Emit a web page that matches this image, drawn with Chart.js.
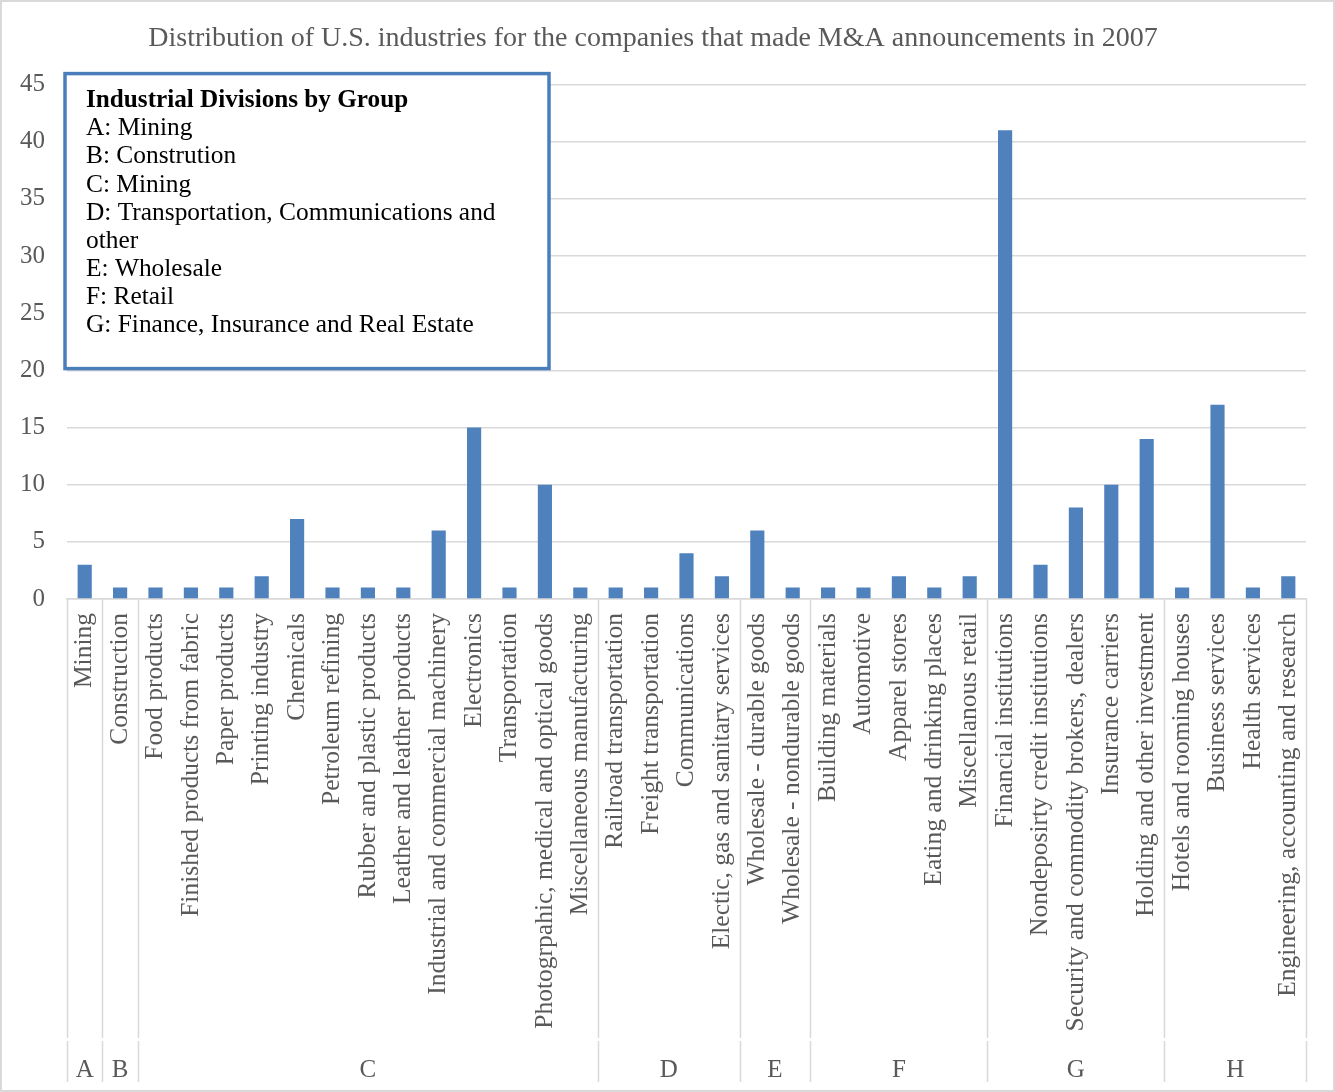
<!DOCTYPE html>
<html>
<head>
<meta charset="utf-8">
<script src="https://cdn.jsdelivr.net/npm/chart.js@4/dist/chart.umd.min.js"></script>
<style>
  body { margin: 0; background: #fff; }
  canvas { display: block; }
</style>
</head>
<body>
<canvas id="myChart" width="1335" height="1092"></canvas>
<script>
const ctx = document.getElementById("myChart");

// Industries (x axis), one bar each
const industries = [
  "Mining", "Construction",
  "Food products", "Finished products from fabric", "Paper products", "Printing industry",
  "Chemicals", "Petroleum refining", "Rubber and plastic products", "Leather and leather products",
  "Industrial and commercial machinery", "Electronics", "Transportation",
  "Photogrpahic, medical and optical goods", "Miscellaneous manufacturing",
  "Railroad transportation", "Freight transportation", "Communications", "Electic, gas and sanitary services",
  "Wholesale - durable goods", "Wholesale - nondurable goods",
  "Building materials", "Automotive", "Apparel stores", "Eating and drinking places", "Miscellanous retail",
  "Financial institutions", "Nondeposirty credit institutions", "Security and commodity brokers, dealers",
  "Insurance carriers", "Holding and other investment",
  "Hotels and rooming houses", "Business services", "Health services", "Engineering, accounting and research",
];
const counts = [
  3, 1,
  1, 1, 1, 2, 7, 1, 1, 1, 6, 15, 1, 10, 1,
  1, 1, 4, 2,
  6, 1,
  1, 1, 2, 1, 2,
  41, 3, 8, 10, 14,
  1, 17, 1, 2,
];

// second level of the category axis
const groupNames = ["A", "B", "C", "D", "E", "F", "G", "H"];
const groupSizes = [1, 1, 13, 4, 2, 5, 5, 4];

const yTicks = { min: 0, max: 45, step: 5 };

const noteTitle = "Industrial Divisions by Group";
const noteLines = [
  "A: Mining",
  "B: Constrution",
  "C: Mining",
  "D: Transportation, Communications and",
  "other",
  "E: Wholesale",
  "F: Retail",
  "G: Finance, Insurance and Real Estate",
];

const FONT = "'Liberation Serif', 'Times New Roman', serif";
const GRID = "#d9d9d9";
const TEXT = "#595959";

// group labels + separator lines under the rotated labels
const groupAxis = {
  id: "groupAxis",
  afterDraw(chart) {
    const c = chart.ctx;
    const x = chart.scales.x;
    const area = chart.chartArea;
    const half = (x.getPixelForValue(1) - x.getPixelForValue(0)) / 2;
    const edges = [x.getPixelForValue(0) - half];
    let n = 0;
    groupSizes.forEach((s) => {
      n += s;
      edges.push(x.getPixelForValue(n - 1) + half);
    });
    c.save();
    c.strokeStyle = GRID;
    c.lineWidth = 1.5;
    edges.forEach((px) => {
      px = Math.round(px) + 0.5;
      c.beginPath();
      c.moveTo(px, area.bottom);
      c.lineTo(px, x.bottom - 44);
      c.moveTo(px, x.bottom - 41);
      c.lineTo(px, x.bottom);
      c.stroke();
    });
    c.fillStyle = TEXT;
    c.font = "25px " + FONT;
    c.textAlign = "center";
    c.textBaseline = "middle";
    groupNames.forEach((g, i) => {
      c.fillText(g, (edges[i] + edges[i + 1]) / 2, x.bottom - 12);
    });
    c.restore();
  },
};

// the text box in the upper left + page frame
const noteBox = {
  id: "noteBox",
  afterDraw(chart) {
    const c = chart.ctx;
    const area = chart.chartArea;
    const left = area.left - 2;
    const top = area.top - 11;
    c.save();
    c.strokeStyle = GRID;
    c.lineWidth = 2;
    c.strokeRect(1, 1, chart.width - 2, chart.height - 2);

    c.fillStyle = "#fff";
    c.fillRect(left, top, 484, 295);
    c.strokeStyle = "#4a7ebb";
    c.lineWidth = 3.5;
    c.strokeRect(left, top, 484, 295);

    c.fillStyle = "#000";
    c.textAlign = "left";
    c.textBaseline = "middle";
    c.font = "bold 25.2px " + FONT;
    c.fillText(noteTitle, left + 21, top + 27);
    c.font = "25.4px " + FONT;
    noteLines.forEach((t, i) => {
      c.fillText(t, left + 21, top + 27 + (i + 1) * 28.1);
    });
    c.restore();
  },
};

new Chart(ctx, {
  type: "bar",
  data: {
    labels: industries,
    datasets: [
      {
        label: "Companies",
        data: counts,
        backgroundColor: "#4f81bd",
        barPercentage: 0.4,
        categoryPercentage: 1,
      },
    ],
  },
  options: {
    responsive: false,
    animation: false,
    devicePixelRatio: 1,
    layout: { padding: { left: 0, right: 29, top: 0, bottom: 10 } },
    plugins: {
      legend: { display: false },
      tooltip: { enabled: false },
      title: {
        display: true,
        text: "Distribution of U.S. industries for the companies that made M&A announcements in 2007",
        color: TEXT,
        font: { family: FONT, size: 28, weight: "normal" },
        padding: { top: 22, bottom: 29 },
      },
    },
    scales: {
      x: {
        grid: { display: false, drawTicks: false },
        border: { display: true, color: GRID, width: 1.5 },
        ticks: {
          autoSkip: false,
          maxRotation: 90,
          minRotation: 90,
          padding: 14,
          color: TEXT,
          font: { family: FONT, size: 25.5 },
        },
        afterFit: (scale) => {
          scale.height = 483;
        },
      },
      y: {
        min: yTicks.min,
        max: yTicks.max,
        grid: { color: GRID, lineWidth: 1.5, drawTicks: false },
        border: { display: false },
        ticks: {
          stepSize: yTicks.step,
          padding: 22,
          color: TEXT,
          font: { family: FONT, size: 25 },
        },
        afterFit: (scale) => {
          scale.width = 67;
        },
      },
    },
  },
  plugins: [groupAxis, noteBox],
});
</script>
</body>
</html>
